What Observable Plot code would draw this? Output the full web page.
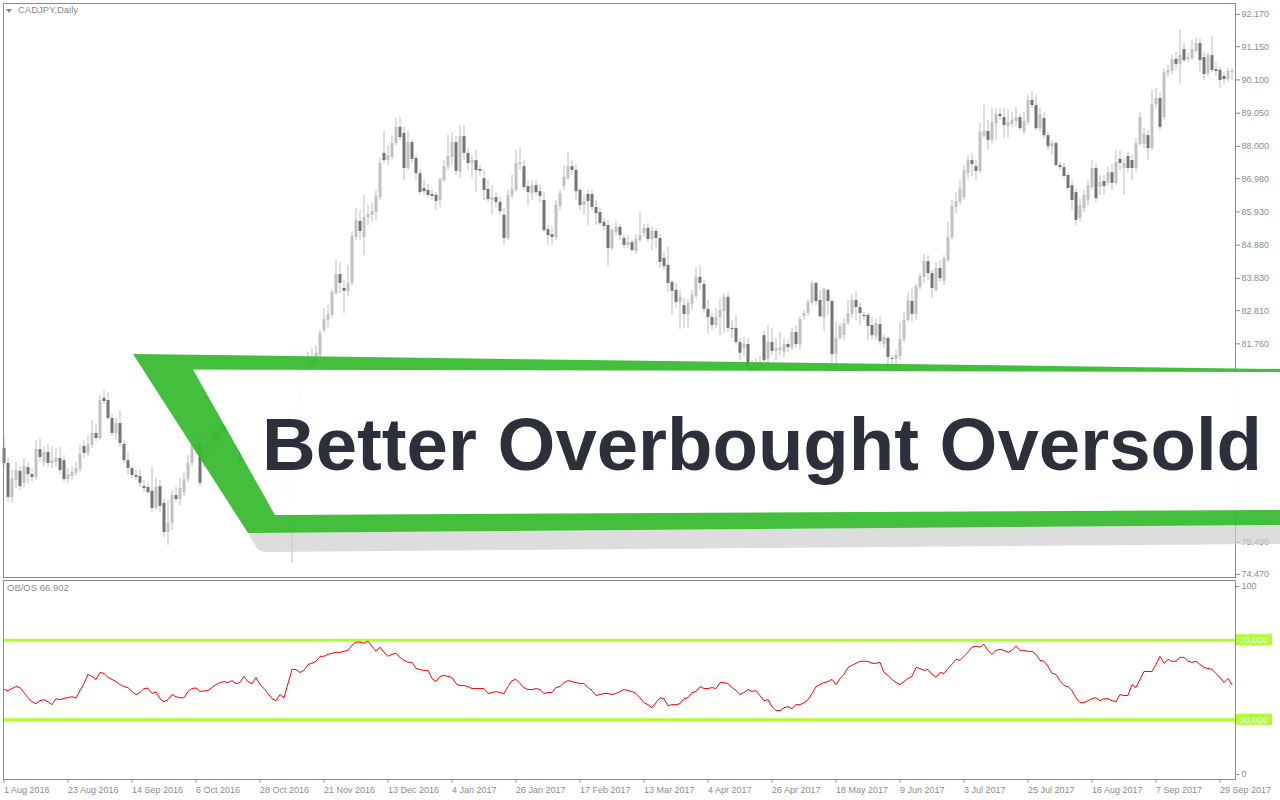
<!DOCTYPE html>
<html><head><meta charset="utf-8">
<script src="https://cdn.jsdelivr.net/npm/d3@7"></script>
<script src="https://cdn.jsdelivr.net/npm/@observablehq/plot@0.6"></script>
<style>
body{margin:0;background:#fff;}
#wrap{position:relative;width:1280px;height:800px;overflow:hidden;font-family:"Liberation Sans",Arial,sans-serif;background:#fff;}
#top,#bot{position:absolute;left:0;}
#top{top:0}
#bot{top:578px}
svg{display:block}
.lbl{position:absolute;color:#8a8a8a;font-size:9.5px;white-space:nowrap;line-height:12px}
</style></head>
<body><div id="wrap"><div id="top"></div><div id="bot"></div>
<svg id="banner" width="1280" height="800" style="position:absolute;left:0;top:0;pointer-events:none">
  <polygon points="6,9 12,9 9,13" fill="#8a8a8a"/>
  <path d="M248,533 L1280,525 L1280,544 L267,552 Q259,552 256,547 Z" fill="#cfcfcf" fill-opacity="0.7"/>
  <path d="M193,369.5 L1280,372 L1280,510 L275,515 Z" fill="#fff" fill-opacity="0.97"/>
  <path fill-rule="evenodd" d="M133,354 L1280,369 L1280,525 L248,533 Z M193,369.5 L275,515 L1280,510 L1280,372 Z" fill="#34ba2c" fill-opacity="0.92"/>
  <text x="262" y="470" font-family="Liberation Sans, Arial, sans-serif" font-weight="700" font-size="74" fill="#2b303b" textLength="1000" lengthAdjust="spacingAndGlyphs">Better Overbought Oversold</text>
</svg>
<div class="lbl" style="left:18px;top:4px">CADJPY,Daily</div>
<div class="lbl" style="left:7px;top:582px">OB/OS 66.902</div>
</div>
<script>
const open = [78.46,77.98,76.91,77.44,77.73,77.35,77.85,77.63,77.54,78.42,
78.01,78.33,77.98,78.01,78.14,78.07,77.47,77.57,77.67,77.79,
78.52,78.30,78.55,78.93,78.77,80.04,79.97,79.40,78.93,79.24,
78.58,78.07,77.82,77.60,77.57,77.25,77.22,77.10,76.56,77.25,
76.72,75.80,76.09,76.97,76.84,77.06,77.47,77.98,78.39,78.61,
78.01,78.33,78.55,78.93,78.71,79.18,78.96,79.08,78.77,78.55,
78.01,78.39,78.14,78.33,78.07,77.82,77.57,77.38,77.19,77.38,
77.13,77.51,77.76,78.55,79.65,80.44,81.04,81.20,81.14,81.39,
82.18,82.50,82.66,83.35,83.95,83.51,83.42,83.67,85.12,85.63,
85.12,85.75,85.82,85.91,86.38,87.78,87.55,87.65,88.09,88.60,
88.41,87.30,88.12,87.62,87.14,86.67,86.61,86.48,86.45,86.29,
86.92,87.36,87.65,88.12,87.18,88.31,87.78,87.46,87.55,87.27,
86.98,86.64,86.29,86.38,86.23,85.82,85.09,86.42,86.61,87.43,
87.36,86.73,86.51,86.76,86.57,86.29,85.37,85.21,85.12,86.10,
86.73,86.98,87.36,87.24,86.61,86.13,86.48,86.48,86.07,85.91,
85.60,85.50,84.77,85.28,85.44,85.09,84.87,84.96,84.68,85.03,
85.25,85.41,85.06,85.31,85.09,84.46,84.24,83.70,83.45,83.07,
82.97,82.69,83.00,83.26,83.86,83.64,82.85,82.59,82.34,82.59,
82.78,83.23,82.25,82.25,81.80,81.61,81.74,81.01,80.98,81.01,
82.02,81.27,81.80,81.52,81.55,81.49,81.74,81.64,82.12,81.74,
82.62,82.72,83.04,83.67,83.13,82.59,83.45,83.10,81.42,81.93,
82.02,82.40,82.69,83.13,82.91,82.66,82.66,82.34,81.99,82.37,
81.74,81.93,81.30,81.27,81.36,81.87,82.50,83.10,82.69,83.54,
83.86,84.36,83.98,83.45,84.14,83.73,84.39,85.12,86.07,86.23,
86.38,87.14,87.55,87.36,87.21,88.31,88.47,88.19,88.72,89.01,
88.91,88.63,88.69,88.79,88.91,88.44,88.75,89.45,89.29,88.56,
88.88,88.34,87.99,88.09,87.40,87.33,87.08,86.76,86.54,85.72,
86.04,86.29,86.70,87.30,86.70,86.89,86.83,87.17,86.83,87.59,
87.30,87.68,87.55,87.30,88.06,88.06,88.34,87.93,89.32,89.51,
88.91,90.30,90.37,90.75,90.59,91.06,90.75,90.78,91.00,91.25,
90.81,90.30,90.87,90.43,90.40,90.21,90.11,90.33];
const high = [78.83,78.14,77.76,78.01,77.88,78.14,78.01,77.82,78.71,78.77,
78.49,78.58,78.52,78.46,78.49,78.23,77.82,77.88,78.01,78.55,
78.71,78.86,79.34,79.24,80.13,80.29,80.22,79.52,79.40,79.65,
78.71,78.30,77.88,77.76,77.76,77.44,77.38,77.88,77.51,77.44,
76.87,76.81,77.13,77.25,77.51,77.70,78.23,78.77,78.96,78.80,
78.65,78.83,79.08,79.05,79.40,79.34,79.30,79.18,78.90,78.65,
78.55,78.49,78.46,78.42,78.17,77.92,77.67,77.44,77.51,77.47,
77.63,77.92,78.71,79.84,80.60,81.15,81.49,81.61,81.71,82.18,
82.88,82.97,83.45,84.39,84.33,83.76,84.24,85.28,86.04,85.97,
86.45,86.13,86.20,86.61,87.62,88.47,88.03,88.34,88.88,88.91,
88.60,88.50,88.19,87.71,87.24,86.92,86.80,86.61,86.54,86.98,
87.55,88.38,88.44,88.31,88.66,88.66,87.93,87.71,87.87,87.40,
87.24,86.92,86.76,86.54,86.38,86.04,86.61,87.08,87.87,87.96,
87.55,86.92,86.92,86.92,86.76,86.54,85.50,85.47,86.29,86.61,
87.40,87.81,87.55,87.40,86.67,86.45,86.61,86.61,86.29,86.04,
85.72,85.66,85.41,85.60,85.53,85.22,85.18,85.03,85.22,85.91,
85.53,85.56,85.47,85.41,85.22,84.65,84.81,83.76,83.67,83.45,
83.19,83.16,83.45,84.17,84.24,83.76,83.13,82.72,82.88,83.19,
83.35,83.38,82.50,82.66,81.93,81.96,81.93,81.23,81.30,81.36,
82.18,82.34,82.25,81.93,82.12,81.93,81.87,82.25,82.34,82.62,
82.81,83.16,83.73,83.70,83.45,83.51,83.48,83.16,82.44,82.40,
82.56,83.13,83.32,83.42,83.07,82.75,82.72,82.59,82.56,82.62,
82.02,81.99,81.39,81.55,82.44,82.75,83.38,83.51,83.64,83.98,
84.58,84.55,84.08,84.33,84.39,84.55,85.60,86.29,86.54,86.92,
87.40,87.71,87.78,87.55,88.72,89.32,88.82,89.20,89.20,89.20,
89.20,89.13,89.07,89.23,89.01,89.07,89.61,89.73,89.61,89.20,
89.07,88.44,88.19,88.15,87.49,87.46,87.17,86.92,86.67,86.35,
86.61,86.92,87.55,87.46,87.08,87.08,87.33,87.43,87.87,87.87,
87.62,87.81,87.71,88.25,89.07,88.56,88.50,89.77,89.83,89.70,
90.46,90.56,90.87,90.97,91.66,91.28,90.94,91.35,91.41,91.41,
90.97,90.94,91.47,90.65,90.49,90.33,90.46,90.46];
const low = [77.82,76.75,76.72,77.19,77.13,77.22,77.32,77.38,77.44,78.01,
77.88,77.85,77.82,77.88,77.63,77.38,77.35,77.44,77.57,77.70,
78.14,78.20,78.46,78.65,78.71,79.84,79.34,78.83,78.71,78.49,
77.98,77.60,77.51,77.44,77.22,77.06,77.00,76.43,76.49,76.43,
75.64,75.39,75.86,76.75,76.65,76.94,77.38,77.88,78.23,77.25,
77.85,78.20,78.42,78.58,78.61,78.83,78.86,78.65,78.42,77.90,
77.90,78.01,78.04,77.95,77.70,77.44,77.25,77.06,77.10,77.00,
77.03,77.44,74.82,78.42,79.52,80.29,80.92,80.98,81.04,81.30,
82.09,82.28,82.56,83.29,83.35,82.72,83.26,83.60,85.03,85.03,
84.55,85.50,85.60,85.66,86.29,87.46,87.40,87.55,88.03,88.19,
86.92,87.24,87.46,86.92,86.45,86.42,86.38,86.29,85.97,86.07,
86.86,87.24,87.40,87.08,86.98,87.55,87.24,86.98,86.54,87.08,
86.29,86.23,85.82,86.04,85.82,84.87,85.03,86.35,86.54,87.24,
86.61,86.10,86.29,86.45,86.20,85.28,84.87,84.87,85.03,85.97,
86.61,86.92,87.08,86.29,85.97,85.82,85.50,85.97,85.50,85.50,
85.34,84.20,84.71,85.18,85.03,84.77,84.77,84.65,84.58,84.96,
85.12,84.96,84.71,84.77,84.14,84.08,83.38,82.66,82.88,82.21,
82.25,82.25,82.81,83.19,83.45,82.72,82.06,82.18,82.25,82.02,
82.09,82.12,81.93,81.71,81.23,81.39,80.98,80.79,80.85,80.85,
81.17,81.08,81.39,81.23,81.39,81.30,81.49,81.55,81.61,81.55,
82.50,82.62,82.97,82.97,82.56,82.18,82.66,80.85,80.98,81.87,
81.87,82.34,82.56,82.50,82.34,82.50,81.87,81.87,81.87,81.71,
81.61,80.98,80.92,80.92,81.23,81.80,82.44,82.44,82.50,83.45,
83.67,83.76,83.19,83.38,83.70,83.60,84.33,85.03,85.88,86.13,
86.29,86.98,87.05,86.92,87.14,88.25,87.87,88.09,88.19,88.82,
88.25,88.25,88.60,88.63,88.50,88.38,88.66,89.20,88.50,88.44,
88.25,87.87,87.71,87.33,87.24,86.98,86.61,85.97,85.50,85.60,
85.91,86.13,86.61,86.23,86.45,86.45,86.76,86.61,86.76,87.24,
86.45,87.17,86.92,87.17,88.00,87.93,87.55,87.87,89.20,88.50,
88.82,90.18,90.24,90.40,89.96,90.65,90.65,90.71,90.94,90.33,
90.08,90.21,90.33,90.21,89.83,89.96,90.02,90.08];
const close = [77.98,76.91,77.51,77.76,77.25,77.88,77.63,77.54,78.42,78.17,
78.33,77.98,78.07,78.14,77.76,77.47,77.63,77.70,77.82,78.26,
78.30,78.58,78.93,78.77,79.97,79.94,79.40,78.93,79.24,78.61,
78.07,77.82,77.60,77.54,77.35,77.19,77.06,76.56,77.22,76.62,
75.80,76.09,76.97,76.84,77.19,77.47,77.98,78.55,78.71,77.35,
78.49,78.65,78.93,78.71,79.18,78.96,79.08,78.77,78.55,78.01,
78.39,78.14,78.33,78.07,77.82,77.57,77.38,77.19,77.38,77.13,
77.51,77.76,78.55,79.65,80.44,80.98,81.30,81.11,81.46,82.09,
82.53,82.69,83.38,83.95,83.67,83.42,83.67,85.15,85.66,85.31,
85.75,85.85,85.94,86.42,87.46,87.55,87.71,88.09,88.60,88.28,
87.30,88.12,87.59,87.14,86.54,86.57,86.45,86.42,86.26,86.95,
87.36,87.68,88.12,87.21,88.31,87.78,87.46,87.55,87.24,87.21,
86.61,86.32,86.38,86.23,85.94,85.09,86.45,86.64,87.46,87.49,
86.70,86.54,86.76,86.54,86.42,85.34,85.18,85.12,86.13,86.51,
87.02,87.36,87.24,86.57,86.13,86.26,86.26,86.07,85.88,85.56,
85.47,84.77,85.34,85.44,85.18,84.87,84.96,84.71,85.06,85.18,
85.41,85.06,85.31,85.09,84.33,84.20,83.67,83.42,83.07,83.23,
82.69,83.04,83.29,83.86,83.67,82.85,82.59,82.34,82.59,82.81,
83.23,82.25,82.21,81.80,81.46,81.74,81.01,80.92,81.14,81.17,
81.23,81.80,81.52,81.61,81.64,81.74,81.64,82.12,81.74,82.53,
82.72,83.07,83.67,83.10,82.62,83.48,83.10,81.42,81.93,82.31,
82.40,82.72,83.13,82.91,82.72,82.62,82.31,82.02,82.40,81.83,
81.96,81.33,81.27,81.39,81.90,82.50,83.13,82.69,83.57,83.89,
84.36,83.98,83.51,84.14,83.82,84.46,85.12,86.10,86.26,86.64,
87.24,87.55,87.43,87.21,88.44,88.47,88.19,88.75,89.01,88.94,
88.66,88.75,88.82,88.91,88.56,88.79,89.45,89.29,88.56,89.01,
88.34,87.99,88.09,87.40,87.33,87.05,86.67,86.29,85.66,86.13,
86.45,86.76,87.30,86.35,86.86,86.73,87.17,86.83,87.49,87.46,
87.46,87.30,87.30,88.09,88.91,88.38,87.93,89.32,89.51,88.60,
90.33,90.40,90.75,90.59,90.87,90.71,90.81,91.06,91.25,90.71,
90.27,90.87,90.40,90.37,90.08,90.11,90.37,90.37];
const obos = [45.2,44.7,45.7,46.7,46.2,43.7,41.1,39.1,38.1,39.6,
40.1,39.1,37.6,40.6,40.1,40.8,41.1,41.6,41.0,44.7,
48.2,52.8,51.8,50.3,53.8,53.3,51.3,50.3,49.2,47.7,
46.7,46.2,44.2,42.7,43.7,45.7,45.9,43.2,44.0,40.6,
39.1,40.1,42.7,41.6,41.1,41.1,44.2,45.7,46.0,44.2,
44.5,44.7,46.2,47.7,48.7,49.2,48.7,49.7,48.2,48.7,
51.8,49.2,48.2,51.3,47.7,45.7,43.2,40.6,39.6,42.7,
41.1,48.2,55.3,55.3,53.8,54.8,57.8,58.4,59.4,61.9,
61.9,62.9,63.4,63.9,63.9,64.4,64.9,67.5,69.0,69.0,
68.5,69.5,67.0,64.4,66.5,63.9,61.9,62.9,63.4,61.4,
59.9,58.9,58.9,55.8,55.3,54.8,54.8,50.8,49.2,51.8,
52.3,51.8,51.3,48.2,47.2,47.2,46.7,45.7,45.7,45.7,
45.7,43.2,43.7,44.2,43.7,43.2,46.7,49.7,50.3,48.2,
46.2,45.2,45.2,45.7,45.2,43.2,43.7,43.7,46.2,46.7,
48.7,49.7,49.2,48.7,48.2,48.2,46.2,44.7,42.2,42.7,
43.2,43.2,42.7,43.2,44.2,45.2,44.7,44.2,43.2,41.1,
38.6,37.6,36.1,38.6,41.1,40.6,37.1,37.6,37.6,38.1,
40.6,41.1,43.7,44.2,46.7,45.7,45.7,46.2,45.7,48.7,
48.7,48.2,46.2,44.7,42.7,43.7,45.2,44.2,44.7,42.2,
39.6,40.1,36.6,34.6,34.6,36.1,36.6,35.6,37.6,37.6,
38.6,40.1,43.2,46.7,47.7,48.7,49.2,50.3,47.7,50.8,
52.8,56.3,57.3,58.4,59.4,59.4,59.4,58.4,58.4,58.9,
53.8,52.3,50.3,48.7,47.7,49.2,50.8,51.8,56.3,55.8,
54.8,55.3,52.8,51.3,53.8,53.3,55.8,57.8,60.4,59.9,
61.9,63.9,66.5,67.0,66.5,68.0,64.9,62.9,64.9,65.4,
64.9,63.9,64.9,67.0,64.9,64.9,64.4,64.4,62.9,59.9,
59.4,56.8,53.3,52.8,49.7,47.2,46.7,44.7,41.1,38.6,
38.6,39.6,40.6,41.1,39.6,40.6,40.6,39.6,39.1,42.7,
42.2,42.2,47.7,46.2,50.3,54.3,54.3,54.3,57.8,61.9,
58.4,60.4,59.4,59.4,61.4,61.4,59.4,58.9,59.4,57.8,
56.3,55.8,55.3,53.3,51.3,48.7,50.8,47.7];
// price-axis labels visible in the reference (the ones under the banner's white box are not shown)
const priceTicks = [92.170,91.150,90.100,89.050,88.000,86.980,85.930,84.880,83.830,82.810,81.760,76.540,75.490,74.470];
const dateLabels = ["1 Aug 2016","23 Aug 2016","14 Sep 2016","6 Oct 2016","28 Oct 2016","21 Nov 2016","13 Dec 2016","4 Jan 2017","26 Jan 2017","17 Feb 2017","13 Mar 2017","4 Apr 2017","26 Apr 2017","18 May 2017","9 Jun 2017","3 Jul 2017","25 Jul 2017","16 Aug 2017","7 Sep 2017","29 Sep 2017"];
const dateTickBars = dateLabels.map((_, k) => k * 16);
const levels = [70, 30];

const bars = open.map((o, i) => ({i, open: o, high: high[i], low: low[i], close: close[i]}));
const bull = bars.filter(d => d.close >= d.open);
const bear = bars.filter(d => d.close < d.open);
const ob = obos.map((v, i) => ({i, v}));
const xDomain = [-0.125, bars.length - 0.125];
const font = {fontFamily: "Liberation Sans, Arial, sans-serif", fontSize: "9px", background: "transparent", overflow: "visible"};
const gray = "#8c8c8c";

const topPlot = Plot.plot({
  width: 1280, height: 578,
  marginTop: 3, marginBottom: 1, marginLeft: 3, marginRight: 45,
  x: {domain: xDomain, axis: null},
  y: {domain: [74.377, 92.515], axis: null},
  style: font,
  marks: [
    Plot.ruleX(bars, {x: "i", y1: "low", y2: "high", stroke: "#bdbdbd", strokeWidth: 1}),
    Plot.ruleX(bull, {x: "i", y1: "open", y2: "close", stroke: "#c2c2c2", strokeWidth: 3}),
    Plot.ruleX(bear, {x: "i", y1: "open", y2: "close", stroke: "#747474", strokeWidth: 3}),
    Plot.frame({stroke: gray, shapeRendering: "crispEdges"}),
    Plot.axisY(priceTicks, {anchor: "right", label: null, tickSize: 4, tickPadding: 2, tickFormat: d => d.toFixed(3), color: gray})
  ]
});
document.getElementById("top").append(topPlot);

const botPlot = Plot.plot({
  width: 1280, height: 222,
  marginTop: 2, marginBottom: 21, marginLeft: 3, marginRight: 45,
  x: {domain: xDomain, axis: null},
  y: {domain: [0, 100], axis: null},
  style: font,
  marks: [
    Plot.ruleY(levels, {stroke: "#adff2f", strokeWidth: 3}),
    Plot.line(ob, {x: "i", y: "v", stroke: "#ff0000", strokeWidth: 1}),
    Plot.frame({stroke: gray, shapeRendering: "crispEdges"}),
    Plot.axisX(dateTickBars, {anchor: "bottom", label: null, tickSize: 4, tickPadding: 3, textAnchor: "start", tickFormat: d => dateLabels[d / 16], color: gray}),
    Plot.axisY([100], {anchor: "right", label: null, tickSize: 3, tickPadding: 3, dy: 6, tickFormat: d => String(d), color: gray}),
    Plot.axisY([0], {anchor: "right", label: null, tickSize: 3, tickPadding: 3, dy: -5, tickFormat: d => String(d), color: gray})
  ]
});
document.getElementById("bot").append(botPlot);

const ys = botPlot.scale("y");
const sel = d3.select(botPlot);
levels.forEach(v => {
  const yy = ys.apply(v);
  sel.append("rect").attr("x", 1236).attr("y", yy - 5.5).attr("width", 36).attr("height", 11).attr("fill", "#adff2f");
  sel.append("text").attr("x", 1239).attr("y", yy).attr("dy", "0.34em").attr("fill", "#ffffff")
    .attr("text-anchor", "start").attr("font-size", 9.5)
    .attr("font-family", "Liberation Sans, Arial, sans-serif").text(v.toFixed(3));
});
</script>
</body></html>
